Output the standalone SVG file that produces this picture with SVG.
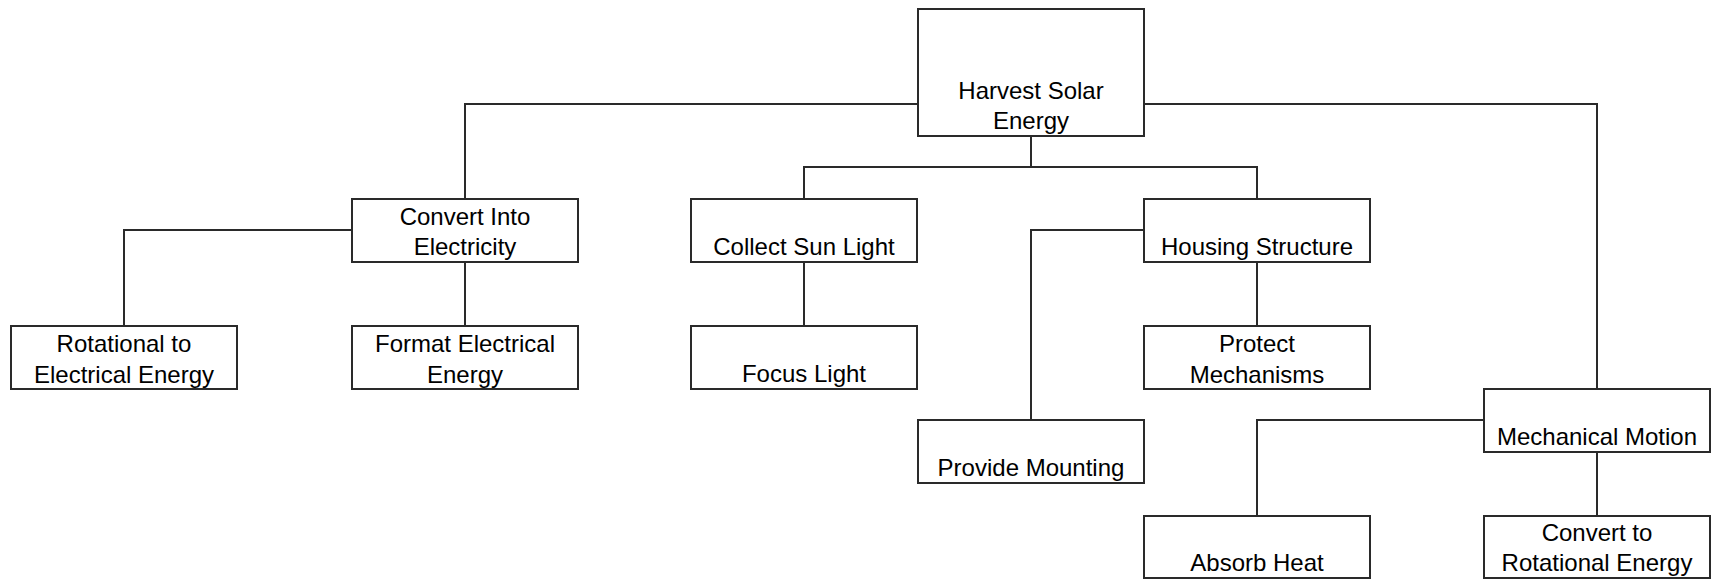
<svg xmlns="http://www.w3.org/2000/svg" width="1717" height="580" viewBox="0 0 1717 580">
<style>
.box{fill:#fff;stroke:#2a2a2a;stroke-width:2}
.lbl{font-family:"Liberation Sans",Arial,sans-serif;font-size:24px;fill:#000;text-anchor:middle}
.conn{fill:none;stroke:#2a2a2a;stroke-width:2}
</style>
<rect width="1717" height="580" fill="#fff"/>
<g id="connectors">
<path class="conn" d="M918,104 H465 V199"/>
<path class="conn" d="M1144,104 H1597 V389"/>
<path class="conn" d="M1031,136 V167 M804,199 V167 H1257 V199"/>
<path class="conn" d="M352,230 H124 V326"/>
<path class="conn" d="M465,262 V326"/>
<path class="conn" d="M804,262 V326"/>
<path class="conn" d="M1144,230 H1031 V420"/>
<path class="conn" d="M1257,262 V326"/>
<path class="conn" d="M1484,420 H1257 V516"/>
<path class="conn" d="M1597,452 V516"/>
</g>
<g id="harvest"><rect class="box" x="918" y="9" width="226" height="127"/><text class="lbl" x="1031" y="99">Harvest Solar</text><text class="lbl" x="1031" y="129">Energy</text></g>
<g id="convert-electricity"><rect class="box" x="352" y="199" width="226" height="63"/><text class="lbl" x="465" y="225">Convert Into</text><text class="lbl" x="465" y="255">Electricity</text></g>
<g id="collect"><rect class="box" x="691" y="199" width="226" height="63"/><text class="lbl" x="804" y="255">Collect Sun Light</text></g>
<g id="housing"><rect class="box" x="1144" y="199" width="226" height="63"/><text class="lbl" x="1257" y="255">Housing Structure</text></g>
<g id="rotational-electrical"><rect class="box" x="11" y="326" width="226" height="63"/><text class="lbl" x="124" y="352">Rotational to</text><text class="lbl" x="124" y="383">Electrical Energy</text></g>
<g id="format"><rect class="box" x="352" y="326" width="226" height="63"/><text class="lbl" x="465" y="352">Format Electrical</text><text class="lbl" x="465" y="383">Energy</text></g>
<g id="focus"><rect class="box" x="691" y="326" width="226" height="63"/><text class="lbl" x="804" y="382">Focus Light</text></g>
<g id="protect"><rect class="box" x="1144" y="326" width="226" height="63"/><text class="lbl" x="1257" y="352">Protect</text><text class="lbl" x="1257" y="383">Mechanisms</text></g>
<g id="mounting"><rect class="box" x="918" y="420" width="226" height="63"/><text class="lbl" x="1031" y="476">Provide Mounting</text></g>
<g id="mechanical"><rect class="box" x="1484" y="389" width="226" height="63"/><text class="lbl" x="1597" y="445">Mechanical Motion</text></g>
<g id="absorb"><rect class="box" x="1144" y="516" width="226" height="62"/><text class="lbl" x="1257" y="571">Absorb Heat</text></g>
<g id="convert-rotational"><rect class="box" x="1484" y="516" width="226" height="62"/><text class="lbl" x="1597" y="541">Convert to</text><text class="lbl" x="1597" y="571">Rotational Energy</text></g>
</svg>
